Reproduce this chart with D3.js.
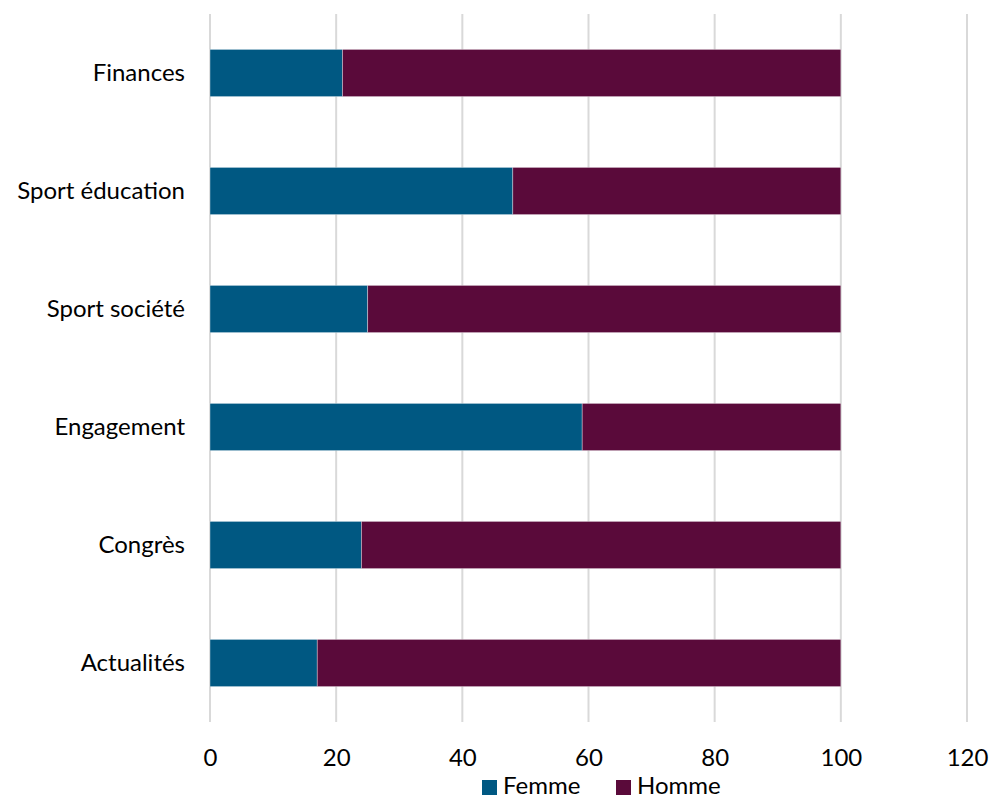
<!DOCTYPE html>
<html><head><meta charset="utf-8">
<script src="https://cdn.jsdelivr.net/npm/d3@7"></script>
<style>body{margin:0;background:#fff}svg{display:block}text{font-family:Lato,"Open Sans",sans-serif;fill:#000}</style>
</head><body>
<svg id="c" width="990" height="799"></svg>
<script>
const categories = ["Finances","Sport éducation","Sport société","Engagement","Congrès","Actualités"];
const femme = [21,48,25,59,24,17];
const homme = [79,52,75,41,76,83];
const xTicks = [0,20,40,60,80,100,120];
const seriesNames = ["Femme","Homme"];
const colors = ["#005882","#5a0a3a"];
const FS = "24px";

const svg = d3.select("#c");
const x = d3.scaleLinear().domain([0,120]).range([210,967]);
const y = d3.scaleBand().domain(categories).range([14,722]).paddingInner(0.6).paddingOuter(0.3);

svg.append("g").selectAll("line").data(xTicks).join("line")
  .attr("x1",d=>x(d)).attr("x2",d=>x(d)).attr("y1",14).attr("y2",722)
  .attr("stroke","#d9d9d9").attr("stroke-width",2);

const rows = categories.map((c,i)=>({c, f:femme[i], h:homme[i]}));
const g = svg.append("g");
g.selectAll("rect.f").data(rows).join("rect").attr("class","f")
  .attr("x",x(0)).attr("y",d=>y(d.c)).attr("width",d=>x(d.f)-x(0)).attr("height",y.bandwidth())
  .attr("fill",colors[0]).attr("stroke","#fff").attr("stroke-width",0.7).attr("stroke-opacity",0.5);
g.selectAll("rect.h").data(rows).join("rect").attr("class","h")
  .attr("x",d=>x(d.f)).attr("y",d=>y(d.c)).attr("width",d=>x(d.f+d.h)-x(d.f)).attr("height",y.bandwidth())
  .attr("fill",colors[1]).attr("stroke","#fff").attr("stroke-width",0.7).attr("stroke-opacity",0.5);

const xAxis = svg.append("g").attr("transform","translate(0,722)")
  .call(d3.axisBottom(x).tickValues(xTicks).tickSize(0).tickPadding(27));
xAxis.select(".domain").remove();
xAxis.selectAll("text").style("font-size",FS).style("font-family","Lato,'Open Sans',sans-serif").attr("fill","#000");

const yAxis = svg.append("g").attr("transform","translate(210,0)")
  .call(d3.axisLeft(y).tickSize(0).tickPadding(25));
yAxis.select(".domain").remove();
yAxis.selectAll("text").style("font-size",FS).style("font-family","Lato,'Open Sans',sans-serif").attr("fill","#000");

const legendX = [482,616];
const leg = svg.append("g");
seriesNames.forEach((s,i)=>{
  leg.append("rect").attr("x",legendX[i]).attr("y",780).attr("width",15).attr("height",15).attr("fill",colors[i]);
  leg.append("text").attr("x",legendX[i]+21).attr("y",794).style("font-size",FS).text(s);
});
</script>
</body></html>
